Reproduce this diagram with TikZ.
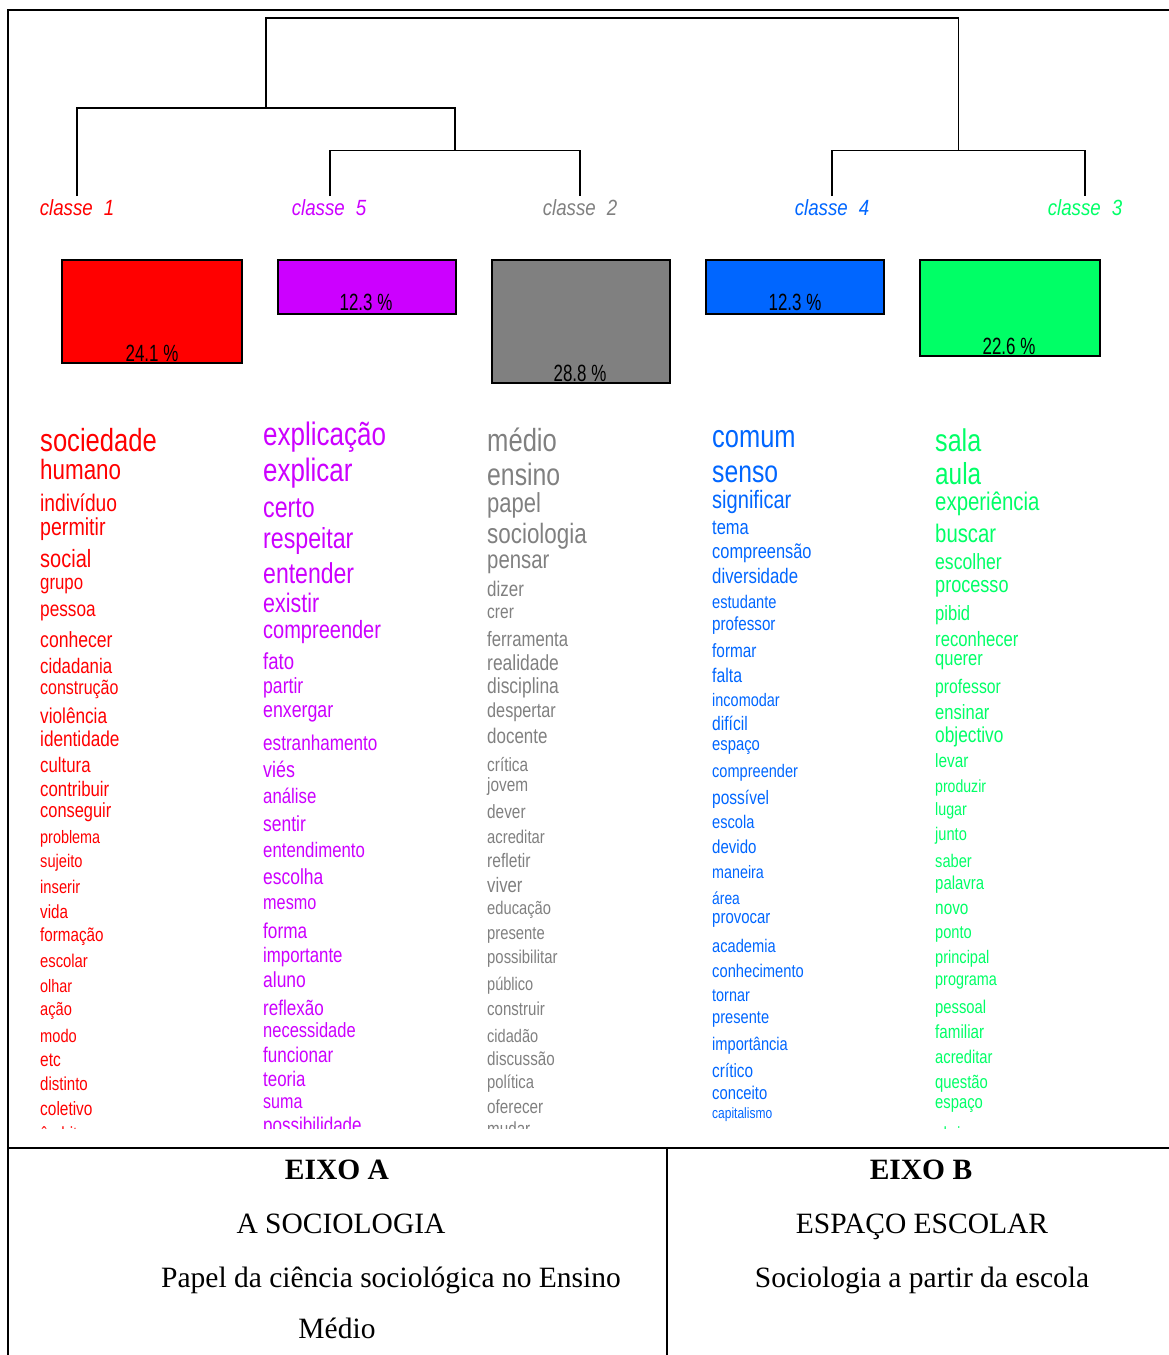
\documentclass[tikz,border=0pt]{standalone}
\usepackage{fontspec}
\setmainfont{Liberation Serif}
\newfontfamily\wordfont[FakeStretch=0.8]{Liberation Sans}
\newfontfamily\pctfont[FakeStretch=0.72]{Liberation Sans}
\newfontfamily\clsfont[FakeStretch=0.85]{Liberation Sans}
\definecolor{cRed}{HTML}{FF0000}
\definecolor{cMag}{HTML}{CC00FF}
\definecolor{cGray}{HTML}{808080}
\definecolor{cBlue}{HTML}{0066FF}
\definecolor{cGreen}{HTML}{00FF66}
\tikzset{
  frameline/.style={line width=2pt, black},
  dendro/.style={line width=1.8pt, black},
  classbox/.style={line width=1.6pt, draw=black},
  classlabel/.style={anchor=base, inner sep=0pt, font=\clsfont\itshape\fontsize{22}{22}\selectfont},
  pct/.style={anchor=base, inner sep=0pt, font=\pctfont\fontsize{23.5}{23.5}\selectfont},
  word/.style={anchor=base west, inner sep=0pt},
  axis/.style={anchor=base, inner sep=0pt, font=\fontsize{29.5}{32}\selectfont},
}
\begin{document}
\begin{tikzpicture}[x=1pt, y=-1pt]
\useasboundingbox (0,0) rectangle (1169,1355);

% outer frame and the table below the chart
\draw[frameline] (8,1355) -- (8,10) -- (1169,10);
\draw[frameline] (8,1148) -- (1169,1148);
\draw[line width=1.5pt] (667,1148) -- (667,1355);

% dendrogram
\coordinate (c1) at (77,196);
\coordinate (c5) at (330,196);
\coordinate (c2) at (580,196);
\coordinate (c4) at (832,196);
\coordinate (c3) at (1085,196);
\coordinate (m52) at (455,150.5);
\coordinate (m43) at (958.5,150.5);
\coordinate (m152) at (266,108.3);
\coordinate (top) at (612,18.3);
\draw[dendro] (c5) |- (m52) -| (c2);
\draw[dendro] (c4) |- (m43) -| (c3);
\draw[dendro] (c1) |- (m152) -| (m52);
\draw[dendro] (m152) |- (top) -| (m43);

% class names
\node[classlabel, text=cRed]   (k1) at (77,215)   {classe\hspace{0.5em}1};
\node[classlabel, text=cMag]   (k5) at (329,215)  {classe\hspace{0.5em}5};
\node[classlabel, text=cGray]  (k2) at (580,215)  {classe\hspace{0.5em}2};
\node[classlabel, text=cBlue]  (k4) at (832,215)  {classe\hspace{0.5em}4};
\node[classlabel, text=cGreen] (k3) at (1085,215) {classe\hspace{0.5em}3};

% class size bars
\draw[classbox, fill=cRed]   (62,260)  rectangle (242,363);
\draw[classbox, fill=cMag]   (278,260) rectangle (456,314);
\draw[classbox, fill=cGray]  (492,260) rectangle (670,383);
\draw[classbox, fill=cBlue]  (706,260) rectangle (884,314);
\draw[classbox, fill=cGreen] (920,260) rectangle (1100,356);
\node[pct] (p1) at (152,361)  {24.1 \%};
\node[pct] (p5) at (366,310)  {12.3 \%};
\node[pct] (p2) at (580,381)  {28.8 \%};
\node[pct] (p4) at (795,310)  {12.3 \%};
\node[pct] (p3) at (1009,354) {22.6 \%};

% word lists (the last row of each list is cut by the frame)
\begin{scope}
\clip (8,400) rectangle (1169,1128);
\foreach \y/\s/\t [count=\i] in {
  451/32/sociedade, 479/28/humano, 511/24/indivíduo, 535/24.5/permitir,
  567/25/social, 589/21/grupo, 616/21.5/pessoa, 647/22/conhecer,
  673/21/cidadania, 694/20/construção, 723/21.5/violência, 746/21.5/identidade,
  772/21/cultura, 796/21/contribuir, 817/20.5/conseguir, 843/18/problema,
  867/18.3/sujeito, 893/18.4/inserir, 918/19/vida, 941/19/formação,
  967/18.5/escolar, 992/18/olhar, 1015/18.3/ação, 1042/18.3/modo,
  1066/19.4/etc, 1090/18.8/distinto, 1115/19.3/coletivo, 1140/19/âmbito}
  \node[word, text=cRed, font=\wordfont\fontsize{\s}{\s}\selectfont] (r\i) at (40,\y) {\t};
\foreach \y/\s/\t [count=\i] in {
  445/32.5/explicação, 481/32.4/explicar, 517/29/certo, 548/29/respeitar,
  583/28.8/entender, 612/26.8/existir, 638/25/compreender, 669/23.2/fato,
  693/22/partir, 717/22.2/enxergar, 750/21.4/estranhamento, 777/22.3/viés,
  803/21/análise, 831/21.8/sentir, 857/21/entendimento, 884/21.8/escolha,
  909/20.3/mesmo, 938/21.5/forma, 962/21/importante, 987/21.8/aluno,
  1015/21.3/reflexão, 1037/20.6/necessidade, 1062/21.3/funcionar, 1086/21.1/teoria,
  1108/20.1/suma, 1132/21.3/possibilidade}
  \node[word, text=cMag, font=\wordfont\fontsize{\s}{\s}\selectfont] (m\i) at (263,\y) {\t};
\foreach \y/\s/\t [count=\i] in {
  451/32/médio, 485/31/ensino, 512/27.5/papel, 543/28/sociologia,
  568/25.4/pensar, 596/21.2/dizer, 618/19.4/crer, 646/20.9/ferramenta,
  670/21.8/realidade, 693/21.8/disciplina, 717/20.3/despertar, 743/21.2/docente,
  771/19.2/crítica, 791/19.2/jovem, 818/19.2/dever, 843/18.5/acreditar,
  867/19.5/refletir, 892/20.9/viver, 914/18.4/educação, 939/18.5/presente,
  963/18.6/possibilitar, 990/18.2/público, 1015/18.8/construir, 1042/18.2/cidadão,
  1065/19/discussão, 1088/18.5/política, 1113/19.1/oferecer, 1135/19/mudar}
  \node[word, text=cGray, font=\wordfont\fontsize{\s}{\s}\selectfont] (g\i) at (487,\y) {\t};
\foreach \y/\s/\t [count=\i] in {
  447/31.8/comum, 482/30.9/senso, 508/25.1/significar, 534/20.6/tema,
  558/20.5/compreensão, 583/21/diversidade, 608/18.3/estudante, 630/19/professor,
  657/19.2/formar, 682/19.8/falta, 706/18.1/incomodar, 730/19.5/difícil,
  750/18.5/espaço, 777/18.2/compreender, 804/19.4/possível, 828/18.3/escola,
  853/18.8/devido, 878/17.9/maneira, 904/17.3/área, 923/18.7/provocar,
  952/18.3/academia, 977/18.4/conhecimento, 1001/18/tornar, 1023/18.3/presente,
  1050/18.3/importância, 1077/19.2/crítico, 1099/18.5/conceito, 1118/15/capitalismo}
  \node[word, text=cBlue, font=\wordfont\fontsize{\s}{\s}\selectfont] (b\i) at (712,\y) {\t};
\foreach \y/\s/\t [count=\i] in {
  451/31.4/sala, 484/30.4/aula, 510/25.5/experiência, 542/25.4/buscar,
  569/22/escolher, 592/22.6/processo, 620/20.7/pibid, 646/20.8/reconhecer,
  665/20.6/querer, 693/19.7/professor, 719/20.7/ensinar, 742/21.6/objectivo,
  767/19.2/levar, 792/17.6/produzir, 815/17.8/lugar, 840/18.3/junto,
  867/18.3/saber, 889/18.7/palavra, 914/19.2/novo, 938/18.3/ponto,
  963/18.2/principal, 985/18/programa, 1013/18.5/pessoal, 1038/19/familiar,
  1063/18.4/acreditar, 1088/18.5/questão, 1108/18.5/espaço, 1140/19/abrir}
  \node[word, text=cGreen, font=\wordfont\fontsize{\s}{\s}\selectfont] (v\i) at (935,\y) {\t};
\end{scope}

% axis table
\node[axis, font=\bfseries\fontsize{29.5}{32}\selectfont] (ea) at (337,1179) {EIXO A};
\node[axis] (ea2) at (341,1233) {A SOCIOLOGIA};
\node[axis, anchor=base west] (ea3) at (161,1287) {Papel da ciência sociológica no Ensino};
\node[axis] (ea4) at (337,1338) {Médio};
\node[axis, font=\bfseries\fontsize{29.5}{32}\selectfont] (eb) at (921,1179) {EIXO B};
\node[axis] (eb2) at (922,1233) {ESPAÇO ESCOLAR};
\node[axis] (eb3) at (922,1287) {Sociologia a partir da escola};
\end{tikzpicture}
\end{document}
